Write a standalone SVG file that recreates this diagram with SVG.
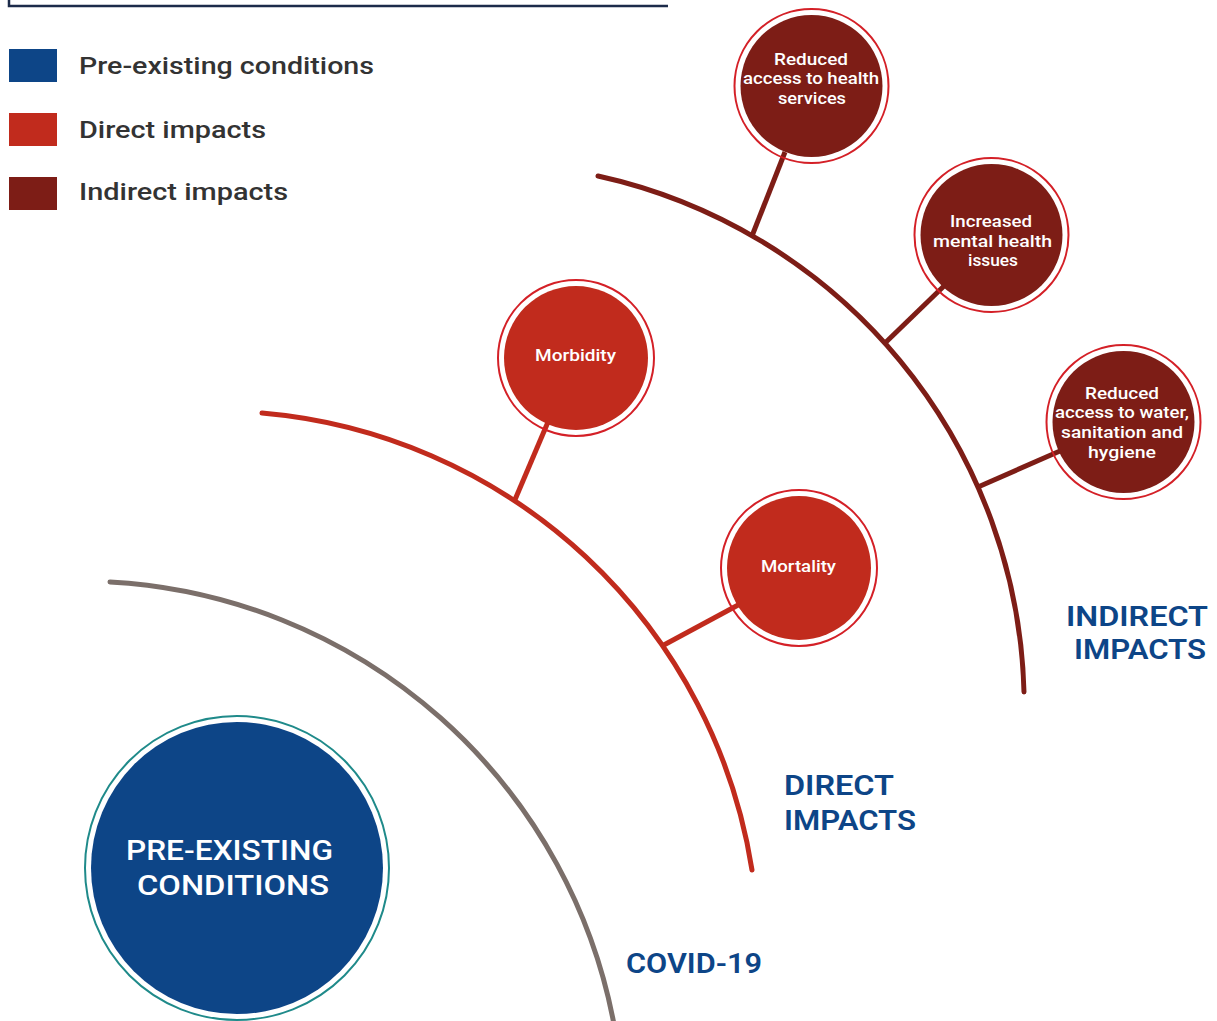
<svg xmlns="http://www.w3.org/2000/svg" width="1217" height="1021" viewBox="0 0 1217 1021">
<style>
.arc{fill:none;stroke-width:5;stroke-linecap:round}
.con{stroke-width:5}
.ring{fill:none;stroke-width:2}
.nt{font-family:Roboto,"Liberation Sans",sans-serif;font-weight:500;font-size:16px;fill:#ffffff}
.lg{font-family:Roboto,"Liberation Sans",sans-serif;font-weight:500;font-size:24px;fill:#333333}
.hd{font-family:Roboto,"Liberation Sans",sans-serif;font-weight:600;font-size:28.5px;fill:#0d4587}
.pe{font-family:Roboto,"Liberation Sans",sans-serif;font-weight:500;font-size:28.5px;fill:#ffffff}
</style>
<rect width="1217" height="1021" fill="#ffffff"/>
<g id="frame">
<path d="M9 0 V6 H668" fill="none" stroke="#1c2b4a" stroke-width="2.5"/>
</g>
<g id="legend">
<rect x="9" y="49" width="48" height="33" fill="#0d4587"/>
<text class="lg" x="79" y="74" textLength="295" lengthAdjust="spacingAndGlyphs">Pre-existing conditions</text>
<rect x="9" y="113" width="48" height="33" fill="#c12b1d"/>
<text class="lg" x="79" y="138" textLength="187" lengthAdjust="spacingAndGlyphs">Direct impacts</text>
<rect x="9" y="177" width="48" height="33" fill="#7d1d16"/>
<text class="lg" x="79" y="200" textLength="209" lengthAdjust="spacingAndGlyphs">Indirect impacts</text>
</g>
<g id="connectors">
<path class="arc" d="M110 582 A543 543 0 0 1 615 1030" stroke="#7b6f6a"/>
<path class="arc" d="M262 413 A543 543 0 0 1 752 870" stroke="#c12b1d"/>
<path class="arc" d="M598 176 A543 543 0 0 1 1024 692" stroke="#7d1d16"/>
<line class="con" x1="752" y1="236" x2="785" y2="152" stroke="#7d1d16"/>
<line class="con" x1="884" y1="344" x2="944" y2="286" stroke="#7d1d16"/>
<line class="con" x1="978" y1="487" x2="1060" y2="451" stroke="#7d1d16"/>
<line class="con" x1="514" y1="502" x2="548" y2="422" stroke="#c12b1d"/>
<line class="con" x1="662" y1="646" x2="740" y2="604" stroke="#c12b1d"/>
</g>
<g id="node-health-services">
<circle cx="811.5" cy="86" r="71" fill="#7d1d16"/>
<circle class="ring" cx="811.5" cy="86" r="77" stroke="#d42027"/>
<text class="nt" x="774" y="64.5" textLength="74" lengthAdjust="spacingAndGlyphs">Reduced</text>
<text class="nt" x="743" y="84" textLength="136" lengthAdjust="spacingAndGlyphs">access to health</text>
<text class="nt" x="778" y="103.5" textLength="68" lengthAdjust="spacingAndGlyphs">services</text>
</g>
<g id="node-mental-health">
<circle cx="991.5" cy="235" r="71" fill="#7d1d16"/>
<circle class="ring" cx="991.5" cy="235" r="77" stroke="#d42027"/>
<text class="nt" x="950" y="226.5" textLength="82" lengthAdjust="spacingAndGlyphs">Increased</text>
<text class="nt" x="933" y="246.5" textLength="119" lengthAdjust="spacingAndGlyphs">mental health</text>
<text class="nt" x="968" y="266" textLength="50" lengthAdjust="spacingAndGlyphs">issues</text>
</g>
<g id="node-wash">
<circle cx="1123.5" cy="422" r="71" fill="#7d1d16"/>
<circle class="ring" cx="1123.5" cy="422" r="77" stroke="#d42027"/>
<text class="nt" x="1085" y="398.5" textLength="74" lengthAdjust="spacingAndGlyphs">Reduced</text>
<text class="nt" x="1055" y="418" textLength="134" lengthAdjust="spacingAndGlyphs">access to water,</text>
<text class="nt" x="1061" y="438" textLength="122" lengthAdjust="spacingAndGlyphs">sanitation and</text>
<text class="nt" x="1088" y="457.5" textLength="68" lengthAdjust="spacingAndGlyphs">hygiene</text>
</g>
<g id="node-morbidity">
<circle cx="576" cy="358" r="72" fill="#c12b1d"/>
<circle class="ring" cx="576" cy="358" r="78" stroke="#d42027"/>
<text class="nt" x="535" y="361" textLength="81" lengthAdjust="spacingAndGlyphs">Morbidity</text>
</g>
<g id="node-mortality">
<circle cx="799" cy="568" r="72" fill="#c12b1d"/>
<circle class="ring" cx="799" cy="568" r="78" stroke="#d42027"/>
<text class="nt" x="761" y="571.5" textLength="75" lengthAdjust="spacingAndGlyphs">Mortality</text>
</g>
<g id="node-pre-existing">
<circle cx="237" cy="868" r="146" fill="#0d4587"/>
<circle class="ring" cx="237" cy="868" r="152" stroke="#1f8a8a"/>
<text class="pe" x="126" y="859.5" textLength="207" lengthAdjust="spacingAndGlyphs">PRE-EXISTING</text>
<text class="pe" x="137" y="894.5" textLength="192" lengthAdjust="spacingAndGlyphs">CONDITIONS</text>
</g>
<g id="labels">
<text class="hd" x="1066" y="626" textLength="142" lengthAdjust="spacingAndGlyphs">INDIRECT</text>
<text class="hd" x="1074" y="659" textLength="132" lengthAdjust="spacingAndGlyphs">IMPACTS</text>
<text class="hd" x="784" y="794.5" textLength="110" lengthAdjust="spacingAndGlyphs">DIRECT</text>
<text class="hd" x="784" y="829.5" textLength="132" lengthAdjust="spacingAndGlyphs">IMPACTS</text>
<text class="hd" x="626" y="972.5" textLength="136" lengthAdjust="spacingAndGlyphs">COVID-19</text>
</g>
</svg>
